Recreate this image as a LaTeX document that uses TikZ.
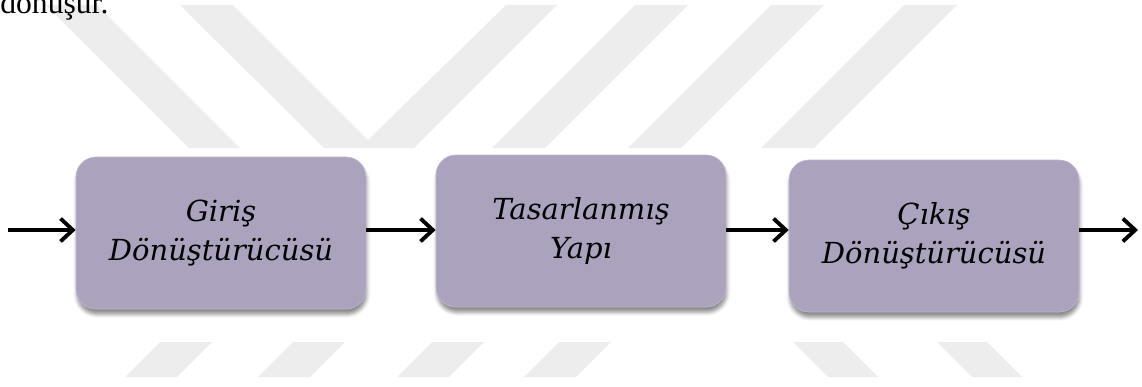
\documentclass[tikz,border=0pt]{standalone}
\usepackage{fontspec}
\setmainfont{DejaVu Serif}
\newfontfamily\pagefont{Liberation Serif}
\usetikzlibrary{arrows.meta,shadows.blur}
\definecolor{boxtop}{HTML}{DCD6E8}
\definecolor{boxmid}{HTML}{ABA2BE}
\definecolor{boxbot}{HTML}{A49AB6}
\definecolor{boxedge}{HTML}{BEB6CE}
\definecolor{wmgray}{HTML}{EDEDED}
\pgfdeclareverticalshading{boxshade}{100bp}{color(0bp)=(boxbot); color(14bp)=(boxmid);
  color(76bp)=(boxmid); color(90bp)=(boxtop); color(100bp)=(boxtop)}

\begin{document}
\begin{tikzpicture}[x=0.02cm,y=-0.02cm,
  block/.style={draw=boxedge,rounded corners=0.4cm,minimum width=5.8cm,minimum height=3.04cm,
    shading=boxshade,
    blur shadow={shadow xshift=0.5pt,shadow yshift=-3pt,shadow opacity=45},
    align=center,inner sep=0pt,font=\fontsize{16.5}{22}\selectfont\itshape},
  flow/.style={-{Straight Barb[length=7pt,width=13pt]},line width=2.2pt},
  wmark/.style={fill=wmgray},
]
  \useasboundingbox (0,0) rectangle (1142,386);

  % watermark, top
  \fill[wmark] (46,5) -- (97,5) -- (240,148) -- (189,148) -- cycle;
  \fill[wmark] (180,5) -- (233,5) -- (368,140) -- (506,5) -- (557,5) -- (414,148) -- (324,148) -- cycle;
  \foreach \x in {635,771,904}
    \fill[wmark] (\x,5) -- ++(53,0) -- ++(-143,143) -- ++(-53,0) -- cycle;
  % watermark, bottom
  \foreach \x in {160,293,432,559}
    \fill[wmark] (\x,342) -- ++(52,0) -- ++(-35,35) -- ++(-52,0) -- cycle;
  \foreach \x in {793,937}
    \fill[wmark] (\x,342) -- ++(50,0) -- ++(35,35) -- ++(-50,0) -- cycle;

  % end of the previous line
  \node[anchor=base west,inner sep=0pt,font=\pagefont\fontsize{18}{20}\selectfont] (prev) at (0,13) {dönüşür.};

  % blocks
  \node[block] (giris) at (221,233) {Giriş\\Dönüştürücüsü};
  \node[block] (yapi) at (581,231) {Tasarlanmış\\Yapı};
  \node[block] (cikis) at (934,236) {Çıkış\\Dönüştürücüsü};

  \coordinate (src) at (8,230);
  \coordinate (snk) at (1138,230);

  \draw[flow] (src) -- (src -| giris.west);
  \draw[flow] (giris.east |- src) -- (yapi.west |- src);
  \draw[flow] (yapi.east |- src) -- (cikis.west |- src);
  \draw[flow] (cikis.east |- snk) -- (snk);
\end{tikzpicture}
\end{document}
